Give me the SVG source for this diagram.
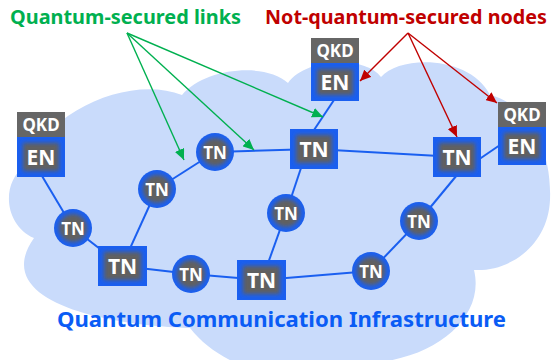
<svg xmlns="http://www.w3.org/2000/svg" width="554" height="360" viewBox="0 0 554 360">
<defs>
<style>
.lbl{font-family:"Noto Sans","Open Sans","DejaVu Sans",sans-serif;font-weight:bold;}
.nt{font-family:"Noto Sans","Open Sans","DejaVu Sans",sans-serif;font-weight:bold;fill:#fff;text-anchor:middle;}
.edge{stroke:#1a5ff0;stroke-width:2;fill:none;}
.blue{fill:#1a5ff0;}
.gray{fill:#606060;}
.qkd{fill:#666666;}
.ga{stroke:#00b050;stroke-width:1.4;fill:none;marker-end:url(#ag);}
.ra{stroke:#c00000;stroke-width:1.4;fill:none;marker-end:url(#ar);}
</style>
<filter id="soft" x="-50%" y="-50%" width="200%" height="200%"><feGaussianBlur stdDeviation="2"/></filter>
<marker id="ag" markerUnits="userSpaceOnUse" markerWidth="12" markerHeight="10" refX="11" refY="5" orient="auto"><path d="M0,0 L11,5 L0,10 z" fill="#00b050"/></marker>
<marker id="ar" markerUnits="userSpaceOnUse" markerWidth="12" markerHeight="10" refX="11" refY="5" orient="auto"><path d="M0,0 L11,5 L0,10 z" fill="#c00000"/></marker>
</defs>
<rect width="554" height="360" fill="#ffffff"/>
<path id="cloud" d="M34,238 C5,225 0,185 25,165 C50,110 130,75 182,95 C205,68 265,62 288,83 C305,58 365,55 381,77 C400,55 470,55 490,95 C530,105 552,150 550,200 C548,245 510,272 474,270 C485,315 440,355 380,362 C330,395 230,380 190,328 C100,325 -10,300 34,238 Z" fill="#c9dbfb"/>
<g id="connectors">
<line class="edge" x1="42" y1="176" x2="73" y2="228"/>
<line class="edge" x1="73" y1="228" x2="122" y2="266"/>
<line class="edge" x1="122" y1="266" x2="157" y2="189"/>
<line class="edge" x1="157" y1="189" x2="215" y2="152"/>
<line class="edge" x1="215" y1="152" x2="314" y2="149"/>
<line class="edge" x1="334" y1="100" x2="314" y2="130"/>
<line class="edge" x1="314" y1="149" x2="457" y2="157"/>
<line class="edge" x1="478" y1="160" x2="500" y2="145"/>
<line class="edge" x1="457" y1="175" x2="419" y2="221"/>
<line class="edge" x1="419" y1="221" x2="371" y2="271"/>
<line class="edge" x1="371" y1="271" x2="262" y2="280"/>
<line class="edge" x1="262" y1="280" x2="191" y2="274"/>
<line class="edge" x1="191" y1="274" x2="122" y2="266"/>
<line class="edge" x1="262" y1="280" x2="286" y2="213"/>
<line class="edge" x1="286" y1="213" x2="301" y2="168"/>
<path class="ga" d="M127,33 L184,160"/>
<path class="ga" d="M127,33 L254,150"/>
<path class="ga" d="M127,33 L323,117"/>
<path class="ra" d="M408,33 L360,81"/>
<path class="ra" d="M408,33 L457,137"/>
<path class="ra" d="M408,33 L497,103"/>
</g>
<g id="en-left">
<rect class="qkd" x="17" y="112" width="48" height="25"/>
<text class="nt" x="41" y="131" font-size="17">QKD</text>
<rect class="blue" x="17" y="137" width="48" height="40"/>
<rect class="gray" x="23" y="143" width="36" height="28" filter="url(#soft)"/>
<text class="nt" x="41" y="165" font-size="21">EN</text>
</g>
<g id="en-top">
<rect class="qkd" x="311" y="38" width="48" height="25"/>
<text class="nt" x="335" y="57" font-size="17">QKD</text>
<rect class="blue" x="311" y="63" width="48" height="38"/>
<rect class="gray" x="317" y="69" width="36" height="26" filter="url(#soft)"/>
<text class="nt" x="335" y="90" font-size="21">EN</text>
</g>
<g id="en-right">
<rect class="qkd" x="498" y="102" width="48" height="25"/>
<text class="nt" x="522" y="121" font-size="17">QKD</text>
<rect class="blue" x="498" y="127" width="48" height="38"/>
<rect class="gray" x="504" y="133" width="36" height="26" filter="url(#soft)"/>
<text class="nt" x="522" y="154" font-size="21">EN</text>
</g>
<g id="tn-sq1">
<rect class="blue" x="98" y="246" width="49" height="40"/>
<rect class="gray" x="104" y="252" width="37" height="28" filter="url(#soft)"/>
<text class="nt" x="122.5" y="274" font-size="21">TN</text>
</g>
<g id="tn-sq2">
<rect class="blue" x="237" y="260" width="49" height="40"/>
<rect class="gray" x="243" y="266" width="37" height="28" filter="url(#soft)"/>
<text class="nt" x="261.5" y="288" font-size="21">TN</text>
</g>
<g id="tn-sq3">
<rect class="blue" x="290" y="129" width="48" height="40"/>
<rect class="gray" x="296" y="135" width="36" height="28" filter="url(#soft)"/>
<text class="nt" x="314" y="157" font-size="21">TN</text>
</g>
<g id="tn-sq4">
<rect class="blue" x="433" y="137" width="48" height="40"/>
<rect class="gray" x="439" y="143" width="36" height="28" filter="url(#soft)"/>
<text class="nt" x="457" y="165" font-size="21">TN</text>
</g>
<g id="tn-c1"><circle class="blue" cx="73" cy="228" r="19"/><circle class="gray" cx="73" cy="228" r="14" filter="url(#soft)"/><text class="nt" x="73" y="234.5" font-size="17">TN</text></g>
<g id="tn-c2"><circle class="blue" cx="157" cy="189" r="19"/><circle class="gray" cx="157" cy="189" r="14" filter="url(#soft)"/><text class="nt" x="157" y="195.5" font-size="17">TN</text></g>
<g id="tn-c3"><circle class="blue" cx="215" cy="152" r="19"/><circle class="gray" cx="215" cy="152" r="14" filter="url(#soft)"/><text class="nt" x="215" y="158.5" font-size="17">TN</text></g>
<g id="tn-c4"><circle class="blue" cx="191" cy="274" r="19"/><circle class="gray" cx="191" cy="274" r="14" filter="url(#soft)"/><text class="nt" x="191" y="280.5" font-size="17">TN</text></g>
<g id="tn-c5"><circle class="blue" cx="286" cy="213" r="19"/><circle class="gray" cx="286" cy="213" r="14" filter="url(#soft)"/><text class="nt" x="286" y="219.5" font-size="17">TN</text></g>
<g id="tn-c6"><circle class="blue" cx="371" cy="271" r="19"/><circle class="gray" cx="371" cy="271" r="14" filter="url(#soft)"/><text class="nt" x="371" y="277.5" font-size="17">TN</text></g>
<g id="tn-c7"><circle class="blue" cx="419" cy="221" r="19"/><circle class="gray" cx="419" cy="221" r="14" filter="url(#soft)"/><text class="nt" x="419" y="227.5" font-size="17">TN</text></g>
<text class="lbl" x="10" y="24" font-size="20" fill="#00b050" textLength="231" lengthAdjust="spacingAndGlyphs">Quantum-secured links</text>
<text class="lbl" x="265" y="24" font-size="20" fill="#c00000" textLength="282" lengthAdjust="spacingAndGlyphs">Not-quantum-secured nodes</text>
<text class="lbl" x="57" y="327" font-size="22" fill="#0a5cf5" textLength="449" lengthAdjust="spacingAndGlyphs">Quantum Communication Infrastructure</text>
</svg>
